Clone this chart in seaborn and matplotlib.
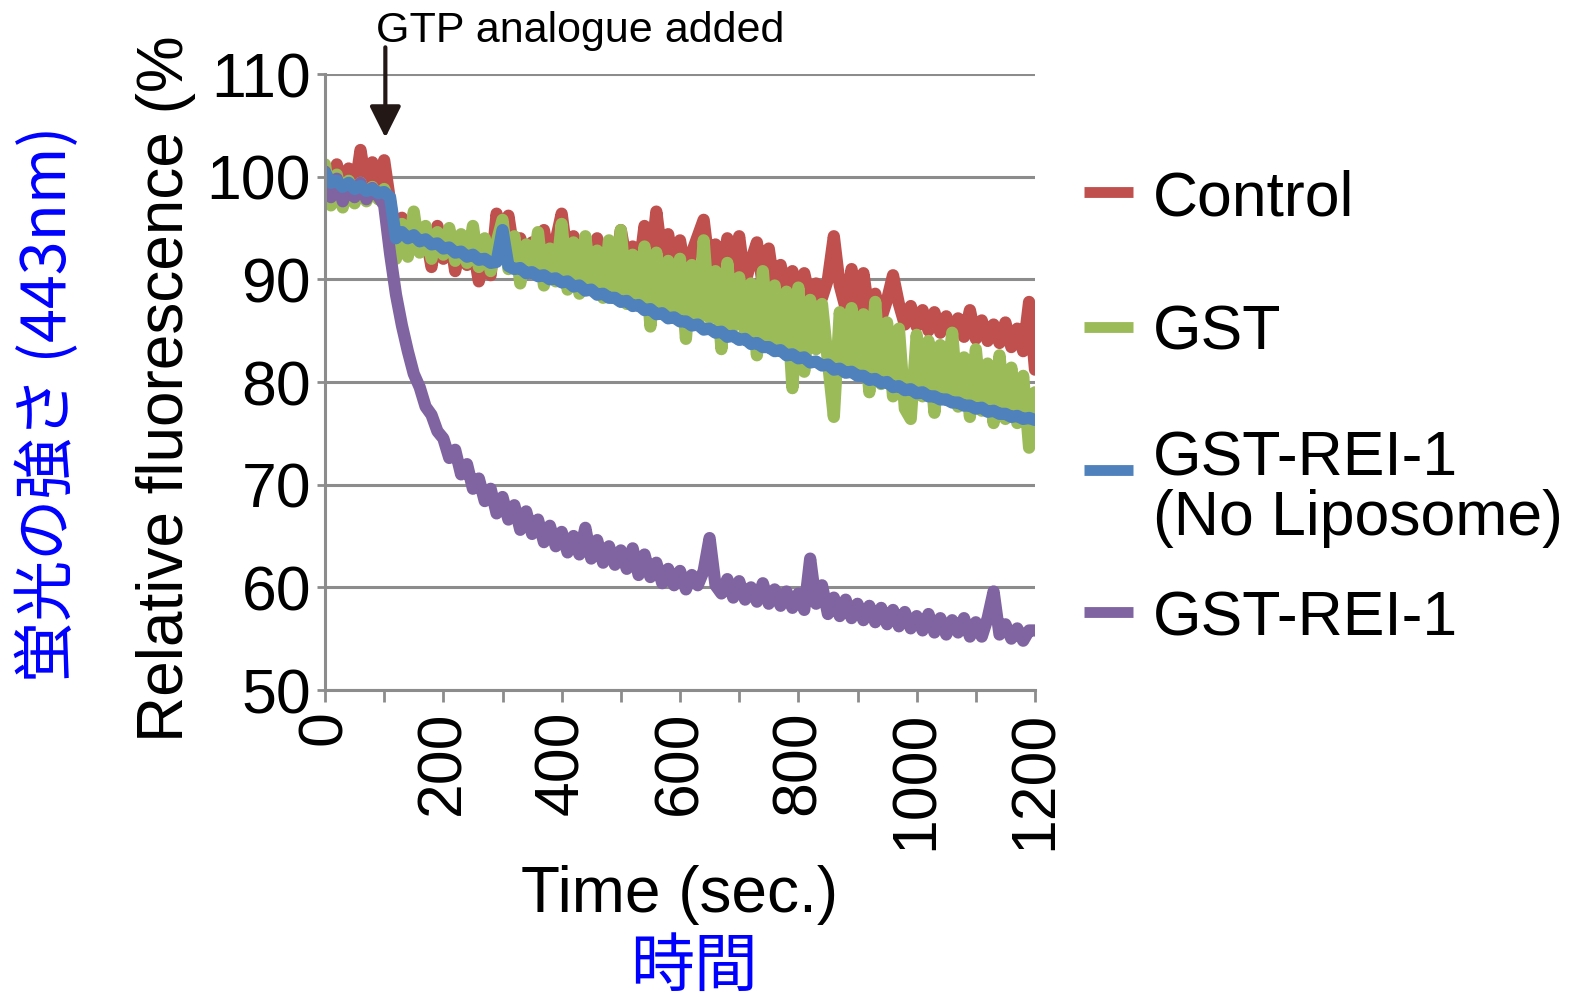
import numpy as np
import pandas as pd
import seaborn as sns
import matplotlib
matplotlib.use('Agg')
import matplotlib.pyplot as plt
from matplotlib.lines import Line2D

# sample times (sec.) and relative fluorescence (%)
time = np.arange(0, 1201, 10)

control = [
    99.0, 97.6, 101.2, 98.4, 100.8, 98.6, 102.6, 99.0, 101.4, 99.4,
    101.6, 97.6, 93.4, 96.0, 94.2, 95.6, 93.6, 94.4, 91.2, 95.2,
    92.0, 94.6, 90.8, 93.8, 91.4, 93.2, 89.8, 92.6, 90.4, 96.4,
    93.0, 96.2, 92.4, 94.0, 91.8, 93.6, 92.2, 94.8, 91.6, 93.8,
    96.4, 92.0, 94.2, 91.8, 93.6, 91.4, 94.0, 91.0, 93.4, 90.8,
    94.8, 91.6, 93.2, 90.6, 95.2, 91.2, 96.6, 92.0, 94.4, 90.8,
    93.8, 90.4, 92.6, 94.2, 95.8, 91.0, 93.4, 89.8, 94.0, 90.6,
    94.2, 89.6, 91.8, 93.6, 89.4, 93.0, 89.0, 91.4, 88.6, 90.8,
    88.4, 90.6, 88.0, 89.6, 88.2, 90.0, 94.2, 89.4, 87.2, 91.0,
    86.8, 90.6, 86.4, 88.6, 86.2, 88.0, 90.4, 87.6, 85.6, 87.4,
    85.4, 87.0, 85.0, 86.8, 84.8, 86.4, 84.6, 86.2, 84.4, 87.0,
    84.2, 86.0, 84.0, 85.6, 83.8, 85.8, 83.4, 85.2, 83.0, 87.8,
    81.2,
]

gst = [
    101.2, 97.2, 100.2, 97.0, 99.6, 97.4, 99.4, 97.6, 99.0, 97.8,
    98.8, 97.2, 92.0, 95.4, 92.2, 96.6, 92.6, 95.2, 92.0, 94.6,
    92.4, 95.0, 91.8, 94.4, 91.6, 95.2, 91.2, 94.0, 90.8, 93.6,
    95.8, 91.0, 94.2, 89.6, 93.4, 90.6, 94.6, 89.4, 93.0, 89.8,
    95.4, 89.0, 93.6, 88.6, 94.2, 89.4, 92.8, 88.2, 93.8, 88.8,
    94.8, 87.6, 92.4, 88.4, 93.2, 85.4, 92.6, 86.6, 91.8, 87.2,
    92.0, 84.2, 91.4, 85.6, 93.8, 86.2, 90.8, 83.2, 91.6, 85.4,
    90.2, 84.6, 89.6, 82.6, 90.8, 83.8, 89.4, 83.0, 88.8, 79.4,
    89.2, 81.0, 88.0, 83.2, 87.6, 82.0, 76.6, 86.8, 81.6, 87.2,
    80.8, 86.6, 79.0, 87.8, 79.8, 85.8, 78.6, 85.2, 77.4, 76.4,
    84.6, 78.6, 84.0, 77.0, 83.6, 79.0, 84.8, 77.6, 82.4, 76.6,
    83.2, 77.2, 81.8, 76.0, 82.6, 76.4, 81.4, 76.0, 80.6, 73.6,
    79.0,
]

rei1 = [
    100.5, 98.0, 99.8, 97.6, 99.2, 98.0, 99.4, 97.8, 98.9, 98.1,
    97.2, 92.5, 88.5, 85.5, 83.0, 80.8, 79.5, 77.6, 76.8, 75.2,
    74.5, 72.6, 73.4, 71.0, 72.0, 69.6, 70.6, 68.4, 69.6, 67.2,
    68.8, 66.6, 68.0, 65.6, 67.4, 65.2, 66.6, 64.4, 66.0, 64.0,
    65.4, 63.4, 65.0, 63.2, 65.8, 62.8, 64.6, 62.4, 64.0, 62.2,
    63.6, 61.8, 63.8, 61.2, 63.2, 61.0, 62.4, 60.4, 61.8, 60.2,
    61.6, 59.8, 61.2, 60.2, 61.6, 64.8, 60.2, 59.4, 60.8, 59.0,
    60.6, 58.8, 60.0, 58.6, 60.4, 58.4, 59.8, 58.2, 59.6, 58.0,
    59.4, 57.8, 62.8, 58.4, 60.2, 57.4, 59.0, 57.2, 58.8, 57.0,
    58.4, 56.8, 58.2, 56.6, 58.0, 56.4, 57.8, 56.2, 57.6, 56.0,
    57.2, 55.8, 57.4, 55.6, 57.0, 55.4, 56.8, 55.6, 57.0, 55.2,
    56.6, 55.2, 57.0, 59.6, 55.4, 56.4, 55.0, 56.0, 54.8, 55.8,
    55.8,
]

rei1_no_lipo = [
    100.4, 99.4, 99.6, 99.0, 99.4, 98.8, 99.1, 98.6, 98.8, 98.4,
    98.5, 98.0, 94.0, 94.6, 94.0, 94.3, 93.7, 93.9, 93.4, 93.5,
    93.0, 93.1, 92.6, 92.7, 92.2, 92.4, 91.9, 92.0, 91.6, 91.7,
    94.8, 91.3, 91.0, 91.1, 90.6, 90.7, 90.3, 90.4, 90.0, 90.1,
    89.7, 89.8, 89.3, 89.4, 88.9, 89.0, 88.5, 88.6, 88.2, 88.2,
    87.8, 87.9, 87.4, 87.5, 87.0, 87.1, 86.6, 86.7, 86.2, 86.3,
    85.9, 85.9, 85.5, 85.6, 85.1, 85.2, 84.8, 84.9, 84.4, 84.5,
    84.1, 84.2, 83.7, 83.8, 83.4, 83.4, 83.0, 83.1, 82.6, 82.7,
    82.3, 82.4, 81.9, 82.0, 81.6, 81.7, 81.2, 81.3, 80.9, 81.0,
    80.6, 80.6, 80.2, 80.3, 79.9, 80.0, 79.5, 79.6, 79.2, 79.3,
    78.9, 79.0, 78.6, 78.6, 78.3, 78.3, 78.0, 78.0, 77.7, 77.7,
    77.4, 77.5, 77.1, 77.2, 76.9, 76.9, 76.6, 76.7, 76.4, 76.5,
    76.3,
]

colors = {'Control': '#C0504D', 'GST': '#9BBB59',
          'GST-REI-1 (No Liposome)': '#4F81BD', 'GST-REI-1': '#8064A2'}
draw_order = ['Control', 'GST', 'GST-REI-1', 'GST-REI-1 (No Liposome)']

df = pd.concat([
    pd.DataFrame({'time': time, 'value': control, 'series': 'Control'}),
    pd.DataFrame({'time': time, 'value': gst, 'series': 'GST'}),
    pd.DataFrame({'time': time, 'value': rei1_no_lipo, 'series': 'GST-REI-1 (No Liposome)'}),
    pd.DataFrame({'time': time, 'value': rei1, 'series': 'GST-REI-1'}),
], ignore_index=True)

sns.set_theme(style='white')
plt.rcParams['font.family'] = ['Liberation Sans', 'Noto Sans CJK JP', 'DejaVu Sans']
plt.rcParams['text.color'] = 'black'

W, H = 1580, 1002
fig = plt.figure(figsize=(W / 100, H / 100), dpi=100)
fx = lambda px: px / W
fy = lambda py: 1 - py / H

gray = '#8c8c8c'
ax = fig.add_axes([fx(325), fy(690), 710 / W, 616 / H])
sns.lineplot(data=df, x='time', y='value', hue='series', hue_order=draw_order,
             palette=colors, linewidth=8.8, estimator=None, legend=False, ax=ax)
for ln in ax.lines:
    ln.set_solid_joinstyle('round')
    ln.set_solid_capstyle('round')

ax.set_xlim(0, 1200)
ax.set_ylim(50, 110)
ax.set_xticks(range(0, 1201, 200))
ax.set_xticks(range(100, 1200, 200), minor=True)
ax.set_yticks(range(50, 111, 10))
ax.yaxis.grid(True, color=gray, linewidth=2.2)
ax.set_axisbelow(True)
ax.tick_params(axis='x', which='both', direction='out', length=8.6, width=2,
               color=gray, labelcolor='black', labelsize=45, pad=6,
               labelrotation=90, bottom=True)
ax.tick_params(axis='y', direction='out', length=6, width=2, color=gray,
               labelcolor='black', labelsize=45, pad=4, left=True)
for s in ['top', 'right']:
    ax.spines[s].set_visible(False)
for s in ['left', 'bottom']:
    ax.spines[s].set_color(gray)
    ax.spines[s].set_linewidth(2.2)
ax.set_xlabel('')
ax.set_ylabel('')

# axis titles
fig.text(fx(680), fy(912), 'Time (sec.)', ha='center', va='baseline', fontsize=46)
fig.text(fx(166), fy(742), 'Relative fluorescence (%', rotation=90,
         ha='center', va='bottom', fontsize=46)
fig.text(fx(694), fy(968), '時間', ha='center', va='center', fontsize=46,
         color='#0000ff', family=['Noto Sans CJK JP', 'DejaVu Sans'])
fig.text(fx(48), fy(682), '蛍光の強さ (443nm)', rotation=90, ha='center',
         va='bottom', fontsize=44, color='#0000ff',
         family=['Noto Sans CJK JP', 'DejaVu Sans'])

# GTP addition marker
fig.text(fx(580), fy(42), 'GTP analogue added', ha='center', va='baseline', fontsize=31)
ax.annotate('', xy=(102, 103.8), xytext=(102, 112.6), annotation_clip=False,
            arrowprops=dict(arrowstyle='-|>', lw=3, color='#231815',
                            mutation_scale=48, shrinkA=0, shrinkB=0))

# legend, laid out by hand
legend_rows = [('Control', 192, [('Control', 215)]),
               ('GST', 327, [('GST', 350)]),
               ('GST-REI-1 (No Liposome)', 470, [('GST-REI-1', 475), ('(No Liposome)', 535)]),
               ('GST-REI-1', 612, [('GST-REI-1', 635)])]
for name, yl, lines in legend_rows:
    fig.add_artist(Line2D([fx(1084), fx(1133)], [fy(yl), fy(yl)], color=colors[name],
                          lw=7.8, solid_capstyle='butt'))
    for txt, yb in lines:
        fig.text(fx(1153), fy(yb), txt, ha='left', va='baseline', fontsize=45)

fig.savefig('out.png', dpi=100)
